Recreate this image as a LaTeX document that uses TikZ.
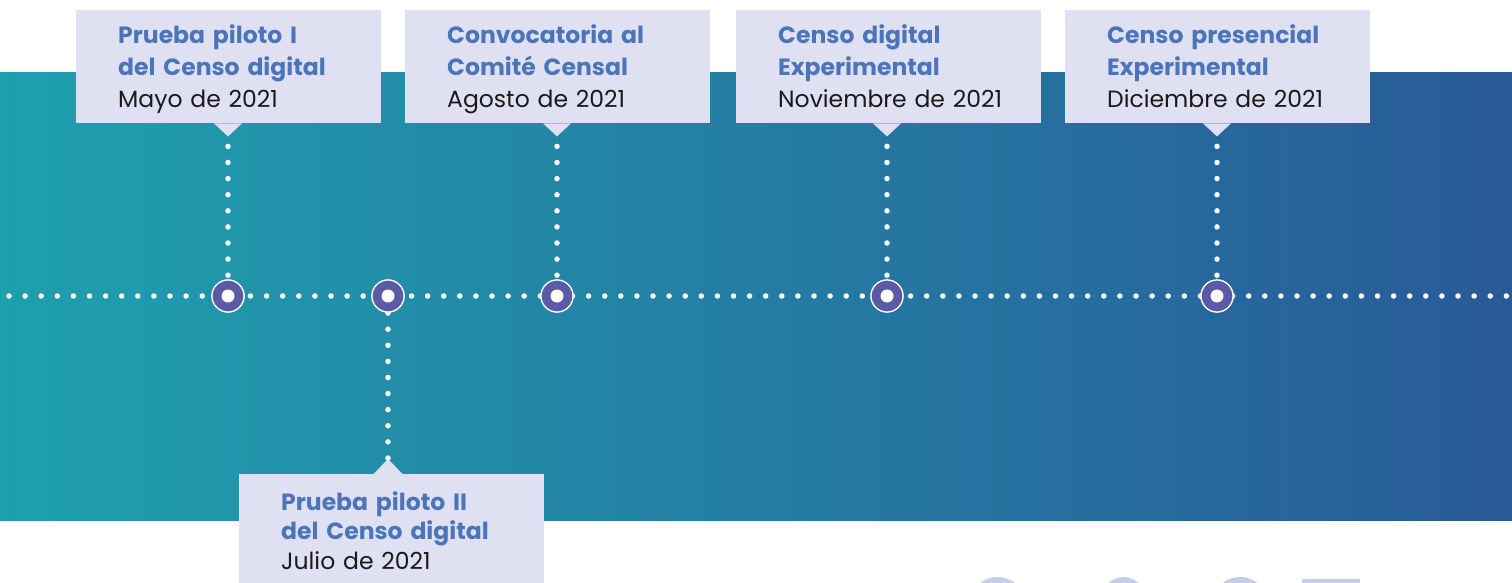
\documentclass[tikz,border=0pt]{standalone}
\usepackage{fontspec}
\setmainfont{Poppins}
\usetikzlibrary{calc}
\definecolor{bandL}{HTML}{1FA0AE}
\definecolor{bandR}{HTML}{295A98}
\definecolor{boxfill}{HTML}{DFE1F3}
\definecolor{titleblue}{HTML}{4C74B9}
\definecolor{dotpurple}{HTML}{5A5AA6}
\definecolor{bigdigit}{HTML}{C6CCEA}
\definecolor{datetext}{HTML}{1A1A1A}
\newcommand{\evttl}[1]{\mbox{\textcolor{titleblue}{\textbf{#1}}}}
\newcommand{\evdate}[1]{\mbox{#1}}
\newcommand{\topstrut}[1]{\rule{0pt}{#1}}
\newcommand{\botstrut}[1]{\rule[-#1]{0pt}{#1}}
\begin{document}
\begin{tikzpicture}[x=1pt,y=-1pt,
  evbox/.style={fill=boxfill, minimum width=305pt, minimum height=113pt, text width=221pt,
    inner xsep=42pt, inner ysep=0pt, align=left, anchor=north west, text=datetext,
    font=\fontsize{23.5}{32}\selectfont},
  milestone/.style={circle, fill=dotpurple, draw=white, line width=1.2pt, minimum size=32pt, inner sep=0pt},
  dotline/.style={white, line width=5.5pt, line cap=round, dash pattern=on 0pt off 16.1pt},
  pointer/.style={fill=boxfill}]
\useasboundingbox (0,0) rectangle (1512,583);
\clip (0,0) rectangle (1512,583);
% band
\shade[left color=bandL, right color=bandR] (0,73) rectangle (1512,520);
% big partial digits at bottom right
\fill[bigdigit] (997.5,612) ellipse [x radius=31pt, y radius=35pt];
\fill[bigdigit] (1123.5,612) ellipse [x radius=27pt, y radius=35pt];
\fill[bigdigit] (1240,612) ellipse [x radius=31pt, y radius=35pt];
\fill[bigdigit] (1302,579) rectangle (1360,600);
% boxes
\node[evbox] (b1) at (76,10) {\topstrut{33pt}\evttl{Prueba piloto I}\\\evttl{del Censo digital}\\\evdate{Mayo de 2021}\botstrut{16pt}};
\node[evbox] (b2) at (405,10) {\topstrut{33pt}\evttl{Convocatoria al}\\\evttl{Comité Censal}\\\evdate{Agosto de 2021}\botstrut{16pt}};
\node[evbox] (b3) at (736,10) {\topstrut{33pt}\evttl{Censo digital}\\\evttl{Experimental}\\\evdate{Noviembre de 2021}\botstrut{16pt}};
\node[evbox] (b4) at (1065,10) {\topstrut{33pt}\evttl{Censo presencial}\\\evttl{Experimental}\\\evdate{Diciembre de 2021}\botstrut{16pt}};
\node[evbox, font=\fontsize{23.5}{29.5}\selectfont, minimum height=0pt] (b5) at (239,474) {\topstrut{36pt}\evttl{Prueba piloto II}\\\evttl{del Censo digital}\\\evdate{Julio de 2021}\botstrut{30pt}};
% milestones
\node[milestone] (c1) at (228,296) {};
\node[milestone] (c5) at (388,296) {};
\node[milestone] (c2) at (557,296) {};
\node[milestone] (c3) at (887,296) {};
\node[milestone] (c4) at (1217,296) {};
% pointers
\foreach \b/\c in {b1/c1,b2/c2,b3/c3,b4/c4}{
  \coordinate (t\b) at (\c |- \b.south);
  \fill[pointer] ($(t\b)+(-14,0)$) -- ($(t\b)+(0,13)$) -- ($(t\b)+(14,0)$) -- cycle;
  \coordinate (d\b) at ($(t\b)+(0,23)$);
}
\coordinate (tb5) at (c5 |- b5.north);
\fill[pointer] ($(tb5)+(-15,0.5)$) -- ($(tb5)+(0,-15)$) -- ($(tb5)+(15,0.5)$) -- cycle;
\coordinate (db5) at ($(tb5)+(0,-16)$);
% dotted lines
\coordinate (L) at (9,296);
\coordinate (R) at (1512,296);
\draw[dotline] (L) -- (R);
\draw[dotline] (db1) -- (c1.north);
\draw[dotline] (db2) -- (c2.north);
\draw[dotline] (db3) -- (c3.north);
\draw[dotline] (db4) -- (c4.north);
\draw[dotline] (db5) -- (c5.south);
% redraw milestones on top
\foreach \c in {c1,c2,c3,c4,c5}{
  \node[milestone] at (\c) {};
  \fill[white] (\c) circle (6.5pt);
}
\end{tikzpicture}
\end{document}
